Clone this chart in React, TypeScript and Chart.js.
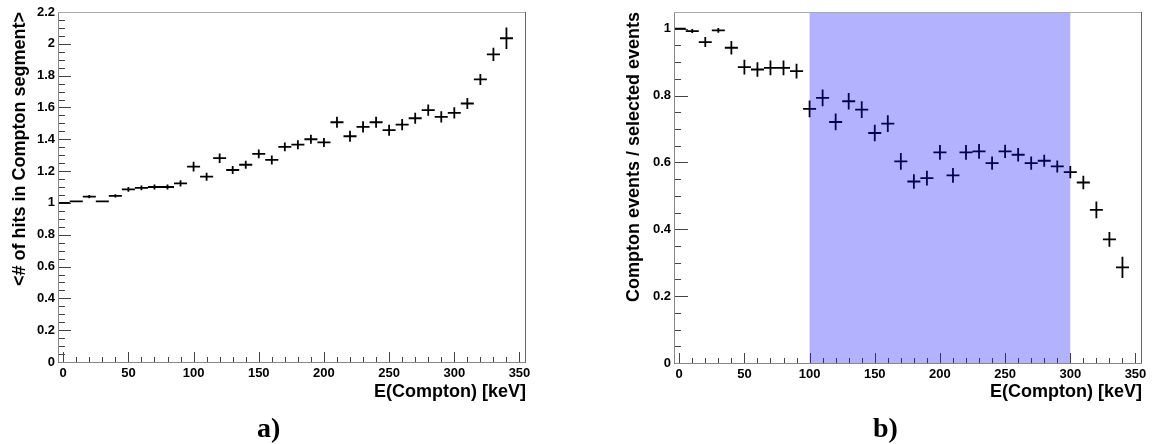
import React, { useEffect, useRef } from "react";
import { Chart, registerables } from "chart.js";

Chart.register(...registerables);

// ---------- data ----------
const energies = [0, 10, 20, 30, 40, 50, 60, 70, 80, 90, 100, 110, 120, 130, 140, 150, 160, 170, 180, 190, 200, 210, 220, 230, 240, 250, 260, 270, 280, 290, 300, 310, 320, 330, 340];
const binHalfWidth = 5;

const meanHits = [1.0, 1.01, 1.04, 1.01, 1.044, 1.085, 1.095, 1.1, 1.1, 1.123, 1.228, 1.165, 1.281, 1.207, 1.24, 1.308, 1.27, 1.352, 1.366, 1.4, 1.38, 1.507, 1.419, 1.478, 1.507, 1.457, 1.492, 1.532, 1.583, 1.541, 1.566, 1.625, 1.776, 1.934, 2.035];
const meanHitsErr = [0, 0.005, 0.01, 0.005, 0.01, 0.015, 0.015, 0.015, 0.015, 0.02, 0.03, 0.025, 0.03, 0.025, 0.025, 0.028, 0.028, 0.028, 0.028, 0.028, 0.028, 0.035, 0.035, 0.035, 0.035, 0.035, 0.035, 0.035, 0.035, 0.035, 0.035, 0.035, 0.035, 0.042, 0.068];

const comptonRatio = [1.0, 0.993, 0.96, 0.995, 0.943, 0.885, 0.878, 0.883, 0.883, 0.873, 0.76, 0.793, 0.721, 0.783, 0.758, 0.688, 0.716, 0.603, 0.543, 0.553, 0.63, 0.561, 0.63, 0.633, 0.598, 0.633, 0.623, 0.598, 0.605, 0.588, 0.571, 0.54, 0.458, 0.37, 0.286];
const comptonRatioErr = [0, 0.006, 0.015, 0.007, 0.02, 0.022, 0.022, 0.022, 0.022, 0.022, 0.025, 0.025, 0.025, 0.025, 0.025, 0.025, 0.025, 0.025, 0.022, 0.022, 0.022, 0.022, 0.022, 0.022, 0.02, 0.02, 0.02, 0.02, 0.018, 0.018, 0.018, 0.02, 0.025, 0.022, 0.032];

const selectedBand = [100, 300];

const xRange = [-4, 355];
const leftYRange = [0, 2.2];
const rightYRange = [0, 1.05];

const xTitle = "E(Compton) [keV]";
const leftYTitle = "<# of hits in Compton segment>";
const rightYTitle = "Compton events / selected events";

// ---------- styles ----------
const TICK_FONT = { family: "'Liberation Sans', Arial, sans-serif", size: 13, weight: "bold" as const };
const TITLE_FONT = { family: "'Liberation Sans', Arial, sans-serif", size: 18, weight: "bold" as const };

type PanelCfg = {
  xs: number[];
  ys: number[];
  errs: number[];
  yRange: number[];
  yTitle: string;
  band?: number[];
  yAxisWidth: number;
  xAxisHeight: number;
  padRight: number;
  yTitlePad: number;
  yMajorLen: number;
};

const fmt = (v: number) => String(Math.round(v * 100) / 100);

function rootStylePlugin(cfg: PanelCfg) {
  return {
    id: "rootStyle",
    afterDatasetsDraw(chart: any) {
      const { ctx, chartArea: a, scales } = chart;
      const xs = scales.x;
      const ys = scales.y;
      ctx.save();

      // ticks (inside)
      ctx.strokeStyle = "#444";
      ctx.lineWidth = 1;
      ctx.beginPath();
      const yMax = ys.max;
      for (let k = 0; k * 0.05 <= yMax + 1e-9; k++) {
        const v = k * 0.05;
        const py = Math.round(ys.getPixelForValue(v)) + 0.5;
        const len = k % 4 === 0 ? cfg.yMajorLen : 7;
        ctx.moveTo(a.left, py);
        ctx.lineTo(a.left + len, py);
      }
      for (let k = 0; k * 10 <= xs.max; k++) {
        const v = k * 10;
        const px = Math.round(xs.getPixelForValue(v)) + 0.5;
        const len = k % 5 === 0 ? 10 : 5;
        ctx.moveTo(px, a.bottom);
        ctx.lineTo(px, a.bottom - len);
      }
      ctx.stroke();

      // crosses with error bars
      ctx.save();
      ctx.beginPath();
      ctx.rect(a.left, a.top, a.right - a.left, a.bottom - a.top);
      ctx.clip();
      ctx.strokeStyle = "#000";
      ctx.lineWidth = 1.8;
      ctx.beginPath();
      cfg.xs.forEach((x, i) => {
        const y = cfg.ys[i];
        const e = cfg.errs[i];
        const px0 = xs.getPixelForValue(x - binHalfWidth);
        const px1 = xs.getPixelForValue(x + binHalfWidth);
        const pxc = xs.getPixelForValue(x);
        const py = ys.getPixelForValue(y);
        ctx.moveTo(px0, py);
        ctx.lineTo(px1, py);
        if (e > 0) {
          ctx.moveTo(pxc, ys.getPixelForValue(y - e));
          ctx.lineTo(pxc, ys.getPixelForValue(y + e));
        }
      });
      ctx.stroke();
      ctx.restore();

      // shaded band
      if (cfg.band) {
        const bx0 = xs.getPixelForValue(cfg.band[0]);
        const bx1 = xs.getPixelForValue(cfg.band[1]);
        ctx.fillStyle = "rgba(0,0,255,0.3)";
        ctx.fillRect(bx0, a.top, bx1 - bx0, a.bottom - a.top);
      }

      // axes & frame
      ctx.lineWidth = 1;
      ctx.strokeStyle = "#888";
      ctx.beginPath();
      ctx.moveTo(Math.round(a.left) + 0.5, a.top);
      ctx.lineTo(Math.round(a.left) + 0.5, Math.round(a.bottom) + 0.5);
      ctx.lineTo(a.right, Math.round(a.bottom) + 0.5);
      ctx.stroke();
      ctx.strokeStyle = "#aaa";
      ctx.beginPath();
      ctx.moveTo(a.left, Math.round(a.top) + 0.5);
      ctx.lineTo(a.right, Math.round(a.top) + 0.5);
      ctx.stroke();
      ctx.strokeStyle = "#666";
      ctx.beginPath();
      ctx.moveTo(Math.round(a.right) - 0.5, a.top);
      ctx.lineTo(Math.round(a.right) - 0.5, a.bottom);
      ctx.stroke();

      ctx.restore();
    },
  };
}

function Panel({ cfg, left }: { cfg: PanelCfg; left: number }) {
  const ref = useRef<HTMLCanvasElement | null>(null);
  useEffect(() => {
    if (!ref.current) return;
    const chart = new Chart(ref.current, {
      type: "scatter",
      data: {
        datasets: [
          {
            data: cfg.xs.map((x, i) => ({ x, y: cfg.ys[i] })),
            pointRadius: 0,
            showLine: false,
          },
        ],
      },
      options: {
        responsive: false,
        animation: false,
        events: [],
        layout: { padding: { top: 12, right: cfg.padRight, left: 0, bottom: 0 } },
        plugins: { legend: { display: false }, tooltip: { enabled: false } },
        scales: {
          x: {
            type: "linear",
            min: xRange[0],
            max: xRange[1],
            grid: { display: false, drawTicks: false },
            border: { display: false },
            ticks: {
              stepSize: 50,
              includeBounds: false,
              autoSkip: false,
              maxRotation: 0,
              color: "#000",
              font: TICK_FONT,
              padding: 4,
              callback: (v: any) => fmt(Number(v)),
            },
            title: {
              display: true,
              text: xTitle,
              align: "end",
              color: "#000",
              font: TITLE_FONT,
              padding: { top: 0, bottom: 41 },
            },
            afterFit: (s: any) => {
              s.height = cfg.xAxisHeight;
            },
          },
          y: {
            type: "linear",
            min: cfg.yRange[0],
            max: cfg.yRange[1],
            grid: { display: false, drawTicks: false },
            border: { display: false },
            ticks: {
              stepSize: 0.2,
              includeBounds: false,
              autoSkip: false,
              color: "#000",
              font: TICK_FONT,
              padding: 3,
              callback: (v: any) => fmt(Number(v)),
            },
            title: {
              display: true,
              text: cfg.yTitle,
              align: "end",
              color: "#000",
              font: TITLE_FONT,
              padding: { top: cfg.yTitlePad, bottom: 0 },
            },
            afterFit: (s: any) => {
              s.width = cfg.yAxisWidth;
            },
          },
        },
      } as any,
      plugins: [rootStylePlugin(cfg)],
    });
    return () => chart.destroy();
  }, []);
  return (
    <canvas
      ref={ref}
      width={577}
      height={444}
      style={{ position: "absolute", left, top: 0, width: 577, height: 444, display: "block" }}
    />
  );
}

const leftCfg: PanelCfg = {
  xs: energies,
  ys: meanHits,
  errs: meanHitsErr,
  yRange: leftYRange,
  yTitle: leftYTitle,
  yAxisWidth: 58,
  xAxisHeight: 82,
  padRight: 51,
  yTitlePad: 9,
  yMajorLen: 13,
};

const rightCfg: PanelCfg = {
  xs: energies,
  ys: comptonRatio,
  errs: comptonRatioErr,
  yRange: rightYRange,
  yTitle: rightYTitle,
  band: selectedBand,
  yAxisWidth: 97,
  xAxisHeight: 81,
  padRight: 12,
  yTitlePad: 46,
  yMajorLen: 14,
};

const labelStyle: React.CSSProperties = {
  position: "absolute",
  top: 414,
  fontFamily: "'Liberation Serif', 'DejaVu Serif', serif",
  fontWeight: "bold",
  fontSize: 28,
  lineHeight: "28px",
  color: "#000",
  whiteSpace: "nowrap",
};

export default function App() {
  return (
    <div style={{ position: "absolute", left: 0, top: 0, width: 1154, height: 444, background: "#fff", overflow: "hidden" }}>
      <Panel cfg={leftCfg} left={0} />
      <Panel cfg={rightCfg} left={577} />
      <div style={{ ...labelStyle, left: 257 }}>a)</div>
      <div style={{ ...labelStyle, left: 873 }}>b)</div>
    </div>
  );
}
